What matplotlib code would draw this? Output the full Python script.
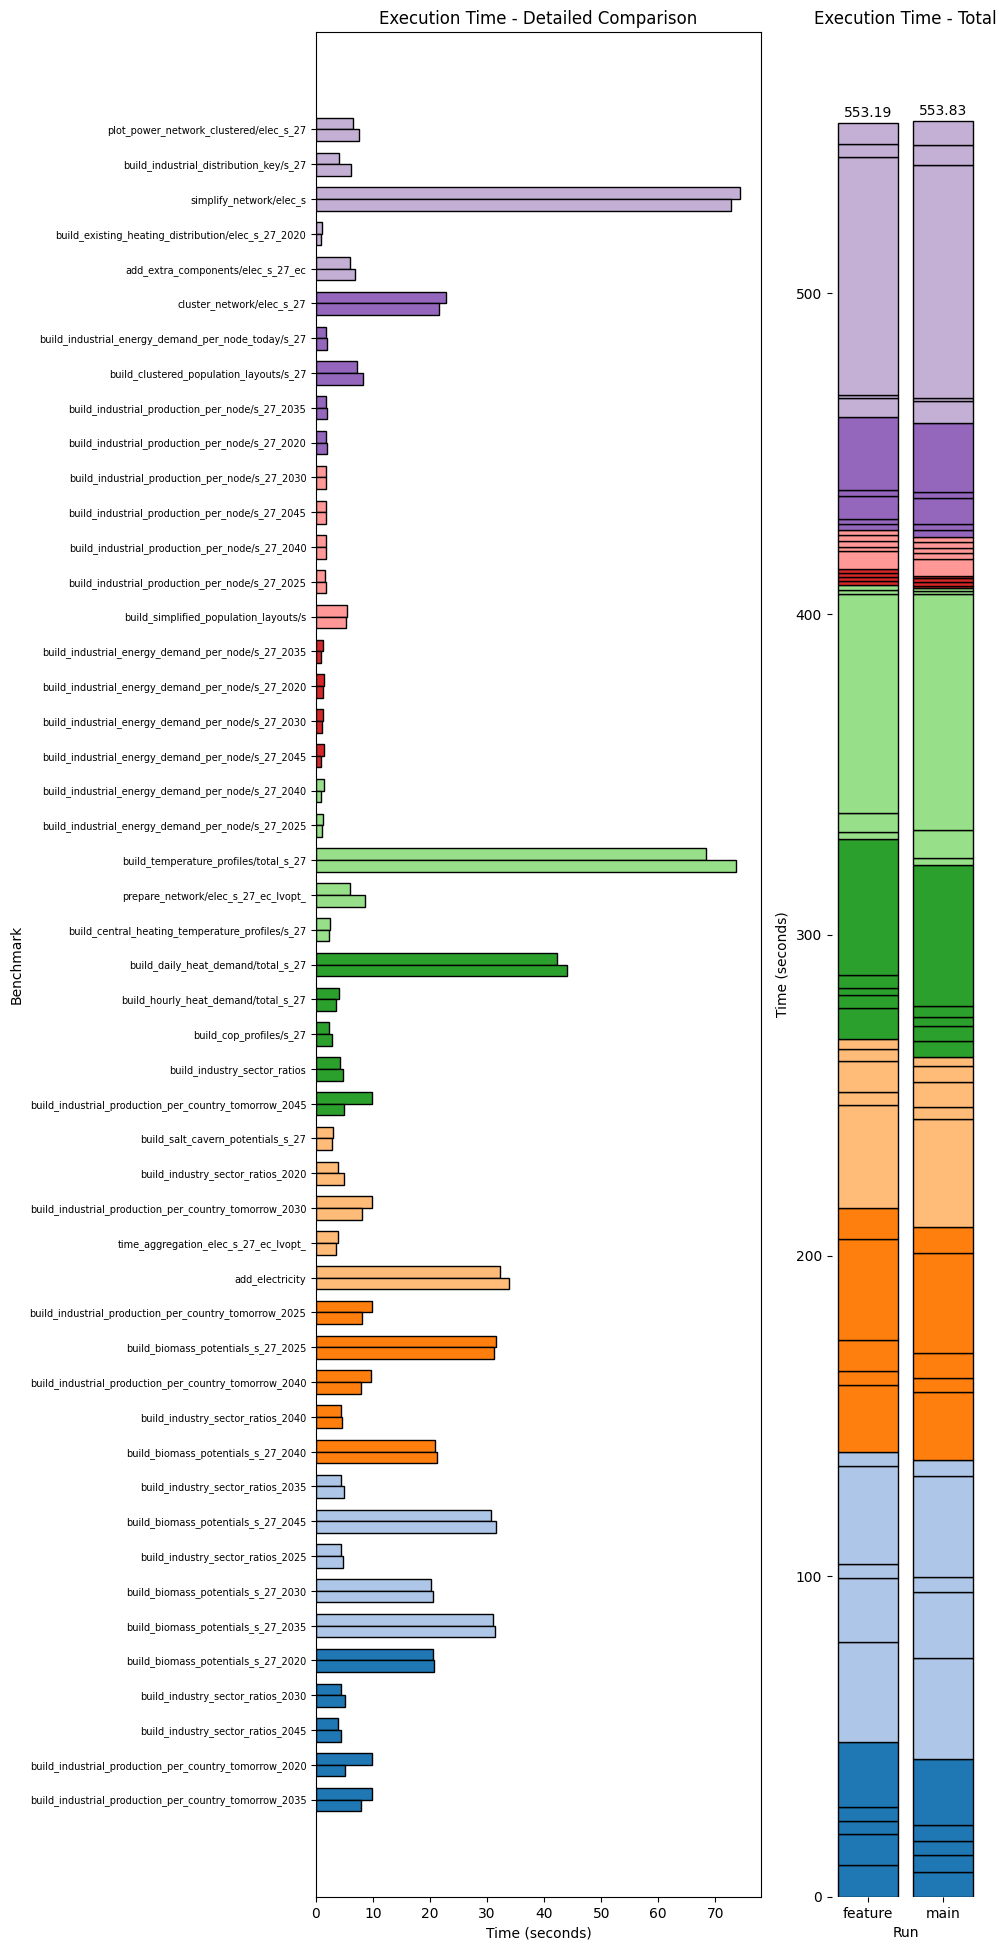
import matplotlib
matplotlib.use("Agg")
import matplotlib.pyplot as plt
import numpy as np

# Benchmarks, bottom (index 0) to top
benchmarks = [
    "build_industrial_production_per_country_tomorrow_2035",
    "build_industrial_production_per_country_tomorrow_2020",
    "build_industry_sector_ratios_2045",
    "build_industry_sector_ratios_2030",
    "build_biomass_potentials_s_27_2020",
    "build_biomass_potentials_s_27_2035",
    "build_biomass_potentials_s_27_2030",
    "build_industry_sector_ratios_2025",
    "build_biomass_potentials_s_27_2045",
    "build_industry_sector_ratios_2035",
    "build_biomass_potentials_s_27_2040",
    "build_industry_sector_ratios_2040",
    "build_industrial_production_per_country_tomorrow_2040",
    "build_biomass_potentials_s_27_2025",
    "build_industrial_production_per_country_tomorrow_2025",
    "add_electricity",
    "time_aggregation_elec_s_27_ec_lvopt_",
    "build_industrial_production_per_country_tomorrow_2030",
    "build_industry_sector_ratios_2020",
    "build_salt_cavern_potentials_s_27",
    "build_industrial_production_per_country_tomorrow_2045",
    "build_industry_sector_ratios",
    "build_cop_profiles/s_27",
    "build_hourly_heat_demand/total_s_27",
    "build_daily_heat_demand/total_s_27",
    "build_central_heating_temperature_profiles/s_27",
    "prepare_network/elec_s_27_ec_lvopt_",
    "build_temperature_profiles/total_s_27",
    "build_industrial_energy_demand_per_node/s_27_2025",
    "build_industrial_energy_demand_per_node/s_27_2040",
    "build_industrial_energy_demand_per_node/s_27_2045",
    "build_industrial_energy_demand_per_node/s_27_2030",
    "build_industrial_energy_demand_per_node/s_27_2020",
    "build_industrial_energy_demand_per_node/s_27_2035",
    "build_simplified_population_layouts/s",
    "build_industrial_production_per_node/s_27_2025",
    "build_industrial_production_per_node/s_27_2040",
    "build_industrial_production_per_node/s_27_2045",
    "build_industrial_production_per_node/s_27_2030",
    "build_industrial_production_per_node/s_27_2020",
    "build_industrial_production_per_node/s_27_2035",
    "build_clustered_population_layouts/s_27",
    "build_industrial_energy_demand_per_node_today/s_27",
    "cluster_network/elec_s_27",
    "add_extra_components/elec_s_27_ec",
    "build_existing_heating_distribution/elec_s_27_2020",
    "simplify_network/elec_s",
    "build_industrial_distribution_key/s_27",
    "plot_power_network_clustered/elec_s_27",
]

feature_times = [
    9.9, 9.8, 3.9, 4.4, 20.45,
    31.0, 20.1, 4.36, 30.6, 4.36,
    20.8, 4.36, 9.61, 31.47, 9.75,
    32.2, 3.8, 9.75, 3.8, 2.97,
    9.75, 4.15, 2.28, 4.0, 42.2,
    2.42, 5.95, 68.3, 1.18, 1.38,
    1.38, 1.18, 1.38, 1.18,
    5.46, 1.52, 1.73, 1.73, 1.73,
    1.73, 1.73, 7.12, 1.73, 22.8,
    5.95, 1.04, 74.26, 4.05, 6.5,
]

main_times = [
    7.9, 5.1, 4.4, 5.0, 20.7,
    31.4, 20.5, 4.70, 31.5, 4.91,
    21.2, 4.5, 7.88, 31.26, 8.02,
    33.75, 3.46, 8.02, 4.91, 2.77,
    4.91, 4.70, 2.77, 3.46, 44.05,
    2.28, 8.58, 73.6, 1.04, 0.83,
    0.83, 1.04, 1.18, 0.83,
    5.26, 1.73, 1.73, 1.73, 1.73,
    1.94, 1.94, 8.23, 1.94, 21.5,
    6.85, 0.83, 72.75, 6.15, 7.54,
]

# colour group (tab20 index) for each benchmark, bottom to top
color_groups = ([0] * 5 + [1] * 5 + [2] * 5 + [3] * 5 + [4] * 5 + [5] * 5
                + [6] * 4 + [7] * 5 + [8] * 5 + [9] * 5)

runs = ["feature", "main"]

tab20 = plt.get_cmap("tab20").colors
colors = [tab20[g] for g in color_groups]

fig = plt.figure(figsize=(10.07, 19.5), dpi=100)
W, H = 1007.0, 1950.0
bottom = (H - 1897) / H
height = 1865 / H
ax1 = fig.add_axes([316 / W, bottom, 445 / W, height])
ax2 = fig.add_axes([831.5 / W, bottom, 148.5 / W, height])

y = np.arange(len(benchmarks))
bh = 0.335
ax1.barh(y + bh / 2, feature_times, height=bh, color=colors, edgecolor="black", linewidth=1.0)
ax1.barh(y - bh / 2, main_times, height=bh, color=colors, edgecolor="black", linewidth=1.0)
ax1.set_yticks(y)
ax1.set_yticklabels(benchmarks, fontsize=7)
ax1.set_ylim(-2.8, 50.8)
ax1.set_xlim(0, 78)
ax1.set_xticks(np.arange(0, 80, 10))
ax1.set_xlabel("Time (seconds)")
ax1.set_ylabel("Benchmark")
ax1.set_title("Execution Time - Detailed Comparison", fontsize=12)

# stacked totals
series = [feature_times, main_times]
for xi, vals in enumerate(series):
    base = 0.0
    for v, c in zip(vals, colors):
        ax2.bar(xi, v, bottom=base, width=0.8, color=c, edgecolor="black", linewidth=1.0)
        base += v
    ax2.text(xi, base + 1.0, f"{sum(vals):.2f}", ha="center", va="bottom", fontsize=10)

ax2.set_xticks([0, 1])
ax2.set_xticklabels(runs)
ax2.set_xlim(-0.49, 1.49)
ax2.set_ylim(0, max(sum(feature_times), sum(main_times)) * 1.05)
ax2.set_xlabel("Run")
ax2.set_ylabel("Time (seconds)")
ax2.set_title("Execution Time - Total", fontsize=12)
for s in ax2.spines.values():
    s.set_visible(False)

fig.savefig("out.png", dpi=100)
